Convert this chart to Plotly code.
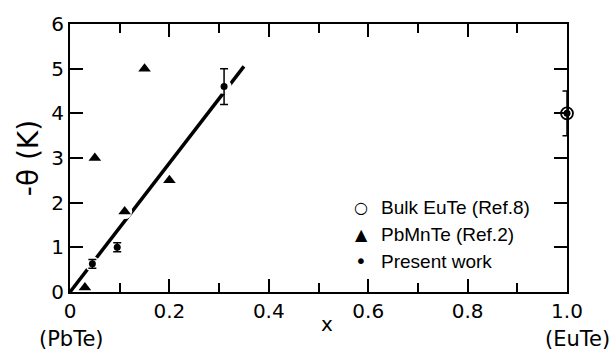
import plotly.graph_objects as go

# ---- data ----
bulk_x = [1.0]
bulk_y = [4.0]
bulk_err = [0.5]

pbmnte_x = [0.03, 0.05, 0.11, 0.15, 0.20]
pbmnte_y = [0.1, 3.0, 1.8, 5.0, 2.5]

present_x = [0.045, 0.095, 0.31, 1.0]
present_y = [0.63, 1.0, 4.6, 4.0]
present_err = [0.1, 0.1, 0.4, 0.0]

fit_x = [0.0, 0.35]
fit_y = [0.0, 5.05]

x_tickvals = [0, 0.2, 0.4, 0.6, 0.8, 1.0]
x_ticktext = ["0", "0.2", "0.4", "0.6", "0.8", "1.0"]
y_tickvals = [0, 1, 2, 3, 4, 5, 6]
y_ticktext = ["0", "1", "2", "3", "4", "5", "6"]

legend_symbols = ["○", "▲", "•"]
legend_labels = ["Bulk EuTe (Ref.8)", "PbMnTe (Ref.2)", "Present work"]

FONT = "DejaVu Sans"
NARROW = "Liberation Sans"

fig = go.Figure()

# fit line
fig.add_trace(go.Scatter(x=fit_x, y=fit_y, mode="lines",
                         line=dict(color="black", width=3.5),
                         showlegend=False, hoverinfo="skip"))

# white halos breaking the line around points
fig.add_trace(go.Scatter(x=present_x[:3] + pbmnte_x[2:3], y=present_y[:3] + pbmnte_y[2:3],
                         mode="markers",
                         marker=dict(color="white", size=15, symbol="circle"),
                         showlegend=False, hoverinfo="skip", cliponaxis=False))

fig.add_trace(go.Scatter(x=bulk_x, y=bulk_y, mode="markers", name=legend_labels[0],
                         marker=dict(symbol="circle-open", size=12, color="black",
                                     line=dict(width=1.8, color="black")),
                         error_y=dict(type="data", array=bulk_err, visible=True,
                                      color="black", thickness=1.5, width=4.5),
                         cliponaxis=False, showlegend=False))

fig.add_trace(go.Scatter(x=pbmnte_x, y=pbmnte_y, mode="markers", name=legend_labels[1],
                         marker=dict(symbol="triangle-up", size=11, color="black"),
                         cliponaxis=False, showlegend=False))

fig.add_trace(go.Scatter(x=present_x, y=present_y, mode="markers", name=legend_labels[2],
                         marker=dict(symbol="circle", size=7, color="black"),
                         error_y=dict(type="data", array=present_err, visible=True,
                                      color="black", thickness=1.5, width=4),
                         cliponaxis=False, showlegend=False))

axis_common = dict(showline=True, linecolor="black", linewidth=2, mirror="ticks",
                   ticks="inside", tickcolor="black", tickwidth=1.5, ticklen=13,
                   showgrid=False, zeroline=False,
                   tickfont=dict(family=FONT, size=20, color="black"))

fig.update_xaxes(range=[0, 1], tickmode="array", tickvals=x_tickvals, ticktext=x_ticktext,
                 minor=dict(dtick=0.1, ticks="inside", ticklen=9, tickwidth=1.5,
                            tickcolor="black", showgrid=False),
                 **axis_common)
fig.update_yaxes(range=[0, 6], tickmode="array", tickvals=y_tickvals, ticktext=y_ticktext,
                 title=dict(text="-θ (K)", font=dict(family=FONT, size=28, color="#000000"),
                            standoff=4),
                 **axis_common)

fig.add_annotation(x=0.517, y=-0.125, xref="paper", yref="paper", text="x",
                   showarrow=False, yshift=-12, font=dict(family=FONT, size=20, color="black"))
fig.add_annotation(x=0.004, y=-0.175, xref="paper", yref="paper", text="(PbTe)",
                   showarrow=False, xanchor="center", yanchor="middle",
                   font=dict(family=FONT, size=21, color="black"))
fig.add_annotation(x=1.022, y=-0.175, xref="paper", yref="paper", text="(EuTe)",
                   showarrow=False, xanchor="center", yanchor="middle",
                   font=dict(family=FONT, size=21, color="black"))

# legend drawn as text
leg_rows_px = [204, 232, 260]
for sym, lab, ypx in zip(legend_symbols, legend_labels, leg_rows_px):
    yy = (292 - ypx) / 279
    fig.add_annotation(x=(361 - 70) / 497, y=yy, xref="paper", yref="paper", text=sym,
                       showarrow=False, xanchor="center", yanchor="middle",
                       font=dict(family=FONT, size=16 if sym != "•" else 20, color="black"))
    fig.add_annotation(x=(379 - 70) / 497, y=yy, xref="paper", yref="paper", text=lab,
                       showarrow=False, xanchor="left", yanchor="middle",
                       font=dict(family=NARROW, size=19, color="black"))

fig.update_layout(
    width=610, height=355,
    margin=dict(l=70, r=43, t=13, b=63),
    paper_bgcolor="white", plot_bgcolor="white",
    showlegend=False,
)

fig.write_html("out.html")
